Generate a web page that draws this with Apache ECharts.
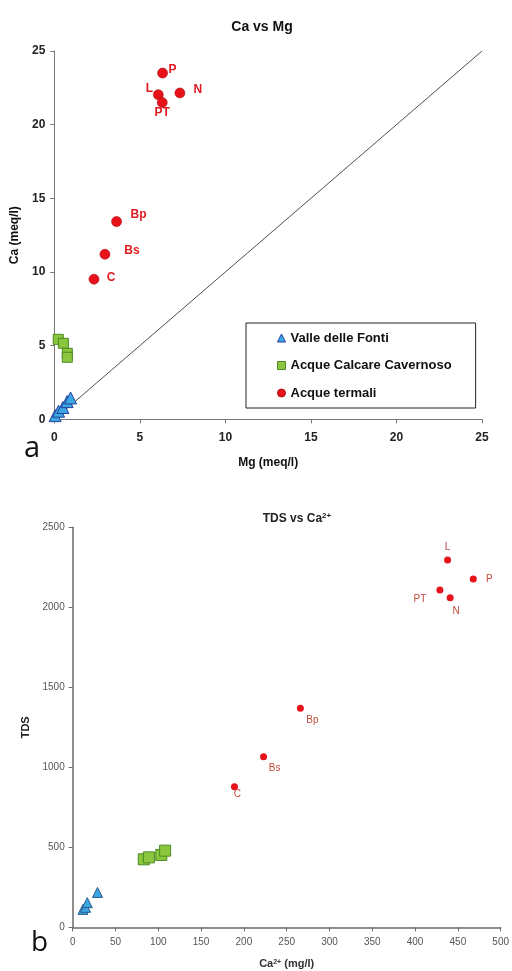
<!DOCTYPE html>
<html>
<head>
<meta charset="utf-8">
<script src="https://cdn.jsdelivr.net/npm/echarts@6/dist/echarts.min.js"></script>
<style>html,body{margin:0;padding:0;background:#fff}#c{width:512px;height:971px}</style>
</head>
<body>
<div id="c"></div>
<script>
// ---------- Chart a: Ca vs Mg (meq/l) ----------
const axisTicksA = [0, 5, 10, 15, 20, 25];
const valleMgA = [0.05, 0.25, 0.5, 0.75, 0.95];
const valleCaA = [0.25, 0.55, 0.8, 1.2, 1.45];
const calcMgA = [0.23, 0.53, 0.76, 0.76];
const calcCaA = [5.43, 5.16, 4.48, 4.21];
const termNames = ['P', 'L', 'PT', 'N', 'Bp', 'Bs', 'C'];
const termMgA = [6.33, 6.08, 6.31, 7.34, 3.64, 2.96, 2.32];
const termCaA = [23.5, 22.03, 21.5, 22.15, 13.42, 11.2, 9.51];
const oneToOneX = [0, 25];
const oneToOneY = [0, 25];

// ---------- Chart b: TDS vs Ca2+ (mg/l) ----------
const valleCaB = [12, 15, 17, 29];
const valleTdsB = [112, 125, 154, 218];
const calcCaB = [83, 89, 103.5, 108];
const calcTdsB = [425, 437, 452, 479];
const termCaB = [468, 438, 429, 441, 266, 223, 189];
const termTdsB = [2177, 2296, 2108, 2060, 1369, 1066, 879];

const seriesNames = ['Valle delle Fonti', 'Acque Calcare Cavernoso', 'Acque termali'];

// label placement (style only)
const labelOffsetA = { P: [10, -3], L: [-9, -6], PT: [0, 10], N: [18, -3], Bp: [22, -7], Bs: [27, -4], C: [17, -2] };
const labelOffsetB = { P: [16, 0], L: [0, -13], PT: [-20, 9], N: [6, 14], Bp: [12, 12], Bs: [11, 12], C: [3, 8] };

const zip = (a, b) => a.map((v, i) => [v, b[i]]);
const termData = (xs, ys, offs, style) => xs.map((v, i) => ({
  name: termNames[i], value: [v, ys[i]],
  label: Object.assign({ show: true, formatter: termNames[i], position: 'inside', offset: offs[termNames[i]] }, style)
}));

const FONT = 'Liberation Sans, Arial, sans-serif';
const blue = '#3aa6e4', blueB = '#23409a';
const green = '#8cc63e', greenB = '#4b8a22';
const red = '#e8121b', redB = '#a80f14';

const chart = echarts.init(document.getElementById('c'));
chart.setOption({
  animation: false,
  textStyle: { fontFamily: FONT },
  title: [
    { text: 'Ca vs Mg', left: 257, top: 15, textAlign: 'center',
      textStyle: { fontSize: 14, fontWeight: 'bold', color: '#111', fontFamily: FONT } },
    { text: '{a|TDS vs Ca}{s|2+}', left: 292, top: 507, textAlign: 'center',
      textStyle: { rich: {
        a: { fontSize: 12, fontWeight: 'bold', color: '#222', fontFamily: FONT },
        s: { fontSize: 8, fontWeight: 'bold', color: '#222', verticalAlign: 'top', padding: [0, 0, 6, 0], fontFamily: FONT }
      } } }
  ],
  legend: {
    data: seriesNames.map(n => ({ name: n })),
    orient: 'vertical', left: 246, top: 323,
    padding: [8, 24, 8, 31], itemGap: 13.5,
    itemWidth: 8, itemHeight: 8, itemStyle: { borderWidth: 1 },
    borderColor: '#222', borderWidth: 1, backgroundColor: '#fff',
    textStyle: { fontSize: 13, fontWeight: 'bold', color: '#111', lineHeight: 14, fontFamily: FONT, padding: [0, 0, 0, 0] },
    selectedMode: false
  },
  grid: [
    { left: 54.3, top: 51, width: 427.7, height: 368.3 },
    { left: 72.7, top: 527.3, width: 428, height: 400 }
  ],
  xAxis: [
    { gridIndex: 0, type: 'value', min: axisTicksA[0], max: axisTicksA[axisTicksA.length - 1], interval: 5,
      splitLine: { show: false },
      axisLine: { show: true, onZero: false, lineStyle: { color: '#777', width: 1 } },
      axisTick: { show: true, length: 4, lineStyle: { color: '#777' } },
      axisLabel: { margin: 12, fontSize: 12, fontWeight: 'bold', color: '#222' },
      name: 'Mg (meq/l)', nameLocation: 'middle', nameGap: 37,
      nameTextStyle: { fontSize: 12, fontWeight: 'bold', color: '#111' } },
    { gridIndex: 1, type: 'value', min: 0, max: 500, interval: 50,
      splitLine: { show: false },
      axisLine: { show: true, onZero: false, lineStyle: { color: '#6a6a6a', width: 1.5 } },
      axisTick: { show: true, length: 4, lineStyle: { color: '#6a6a6a' } },
      axisLabel: { margin: 10, fontSize: 10, color: '#555', formatter: v => String(v) },
      name: '{a|Ca}{s|2+}{a| (mg/l)}', nameLocation: 'middle', nameGap: 31,
      nameTextStyle: { rich: {
        a: { fontSize: 11, fontWeight: 'bold', color: '#333', fontFamily: FONT },
        s: { fontSize: 7, fontWeight: 'bold', color: '#333', verticalAlign: 'top', padding: [0, 0, 5, 0], fontFamily: FONT }
      } } }
  ],
  yAxis: [
    { gridIndex: 0, type: 'value', min: axisTicksA[0], max: axisTicksA[axisTicksA.length - 1], interval: 5,
      splitLine: { show: false },
      axisLine: { show: true, onZero: false, lineStyle: { color: '#777', width: 1 } },
      axisTick: { show: true, length: 4, lineStyle: { color: '#777' } },
      axisLabel: { margin: 9, fontSize: 12, fontWeight: 'bold', color: '#222' },
      name: 'Ca (meq/l)', nameLocation: 'middle', nameGap: 30,
      nameTextStyle: { fontSize: 12, fontWeight: 'bold', color: '#111' } },
    { gridIndex: 1, type: 'value', min: 0, max: 2500, interval: 500,
      splitLine: { show: false },
      axisLine: { show: true, onZero: false, lineStyle: { color: '#6a6a6a', width: 1.5 } },
      axisTick: { show: true, length: 4, lineStyle: { color: '#6a6a6a' } },
      axisLabel: { margin: 8, fontSize: 10, color: '#555', formatter: v => String(v) },
      name: 'TDS', nameLocation: 'middle', nameGap: 37,
      nameTextStyle: { fontSize: 11, fontWeight: 'bold', color: '#222' } }
  ],
  graphic: [
    { type: 'text', left: 24, top: 434, style: { text: 'a', font: '29px "Open Sans", "DejaVu Sans", sans-serif', fill: '#111' } },
    { type: 'text', left: 31, top: 929, style: { text: 'b', font: '28px "Open Sans", "DejaVu Sans", sans-serif', fill: '#111' } }
  ],
  series: [
    { type: 'line', xAxisIndex: 0, yAxisIndex: 0, data: zip(oneToOneX, oneToOneY), symbol: 'none',
      lineStyle: { color: '#222', width: 0.8 }, silent: true, z: 1 },
    { name: seriesNames[0], type: 'scatter', xAxisIndex: 0, yAxisIndex: 0, data: zip(valleMgA, valleCaA),
      symbol: 'triangle', symbolSize: 12, itemStyle: { color: blue, borderColor: blueB, borderWidth: 1, opacity: 1 }, z: 3 },
    { name: seriesNames[1], type: 'scatter', xAxisIndex: 0, yAxisIndex: 0, data: zip(calcMgA, calcCaA),
      symbol: 'rect', symbolSize: 10, itemStyle: { color: green, borderColor: greenB, borderWidth: 1, opacity: 1 }, z: 3 },
    { name: seriesNames[2], type: 'scatter', xAxisIndex: 0, yAxisIndex: 0,
      data: termData(termMgA, termCaA, labelOffsetA, { color: '#e11a22', fontSize: 12, fontWeight: 'bold', fontFamily: FONT }),
      symbol: 'circle', symbolSize: 10, itemStyle: { color: red, borderColor: redB, borderWidth: 0.6, opacity: 1 }, z: 3 },
    { name: seriesNames[0], type: 'scatter', xAxisIndex: 1, yAxisIndex: 1, data: zip(valleCaB, valleTdsB),
      symbol: 'triangle', symbolSize: 10, itemStyle: { color: blue, borderColor: '#2a5a8a', borderWidth: 1, opacity: 1 }, z: 3 },
    { name: seriesNames[1], type: 'scatter', xAxisIndex: 1, yAxisIndex: 1, data: zip(calcCaB, calcTdsB),
      symbol: 'rect', symbolSize: 11, itemStyle: { color: green, borderColor: greenB, borderWidth: 1, opacity: 1 }, z: 3 },
    { name: seriesNames[2], type: 'scatter', xAxisIndex: 1, yAxisIndex: 1,
      data: termData(termCaB, termTdsB, labelOffsetB, { color: '#c24a3c', fontSize: 10, fontFamily: FONT }),
      symbol: 'circle', symbolSize: 7, itemStyle: { color: red, borderWidth: 0, opacity: 1 }, z: 3 }
  ]
});
</script>
</body>
</html>
